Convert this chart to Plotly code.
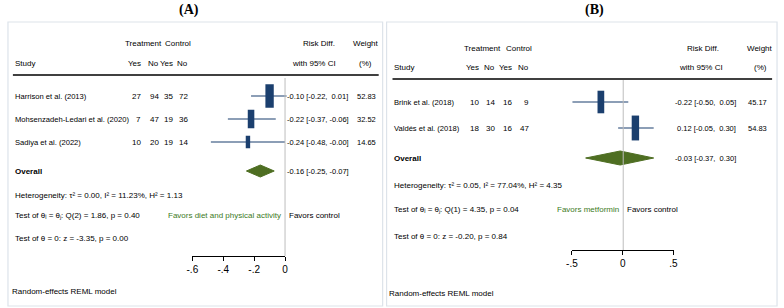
import plotly.graph_objects as go

# ---------------- data ----------------
studies_a = ["Harrison et al. (2013)", "Mohsenzadeh-Ledari et al. (2020)", "Sadiya et al. (2022)"]
treat_yes_a = [27, 7, 10]
treat_no_a = [94, 47, 20]
ctrl_yes_a = [35, 19, 19]
ctrl_no_a = [72, 36, 14]
rd_a = [-0.10, -0.22, -0.24]
lo_a = [-0.22, -0.37, -0.48]
hi_a = [0.01, -0.06, -0.00]
weight_a = [52.83, 32.52, 14.65]
overall_a = [-0.16, -0.25, -0.07]
stats_a = ["Heterogeneity: τ² = 0.00, I² = 11.23%, H² = 1.13",
           "Test of θᵢ = θⱼ: Q(2) = 1.86, p = 0.40",
           "Test of θ = 0: z = -3.35, p = 0.00"]
favors_a = ["Favors diet and physical activity", "Favors control"]
ticks_a = [-0.6, -0.4, -0.2, 0]
ticklabels_a = ["-.6", "-.4", "-.2", "0"]

studies_b = ["Brink et al. (2018)", "Valdés et al. (2018)"]
treat_yes_b = [10, 18]
treat_no_b = [14, 30]
ctrl_yes_b = [16, 16]
ctrl_no_b = [9, 47]
rd_b = [-0.22, 0.12]
lo_b = [-0.50, -0.05]
hi_b = [0.05, 0.30]
weight_b = [45.17, 54.83]
overall_b = [-0.03, -0.37, 0.30]
stats_b = ["Heterogeneity: τ² = 0.05, I² = 77.04%, H² = 4.35",
           "Test of θᵢ = θⱼ: Q(1) = 4.35, p = 0.04",
           "Test of θ = 0: z = -0.20, p = 0.84"]
favors_b = ["Favors metformin", "Favors control"]
ticks_b = [-0.5, 0, 0.5]
ticklabels_b = ["-.5", "0", ".5"]

model_note = "Random-effects REML model"

# ---------------- styling / layout ----------------
W, H = 784, 308
FONT = "Liberation Sans, Arial, sans-serif"
FS = 8
FS_NUM = 7.5
FS_NAME = 7.6
NAVY = "#1b3f6e"
GREEN = "#4e6e22"
GTXT = "#3d7a24"
REFGRAY = "#bdbdbd"
BORDER = "#dde3ea"


def px(x):
    return x / W


def py(y):
    return 1 - y / H


panels = [
    dict(name="A", studies=studies_a, cols=[treat_yes_a, treat_no_a, ctrl_yes_a, ctrl_no_a],
         rd=rd_a, lo=lo_a, hi=hi_a, w=weight_a, ov=overall_a, stats=stats_a, fav=favors_a,
         ticks=ticks_a, tl=ticklabels_a,
         box=(2, 22, 382, 306), title_x=186, left=8, note_x=5,
         hdr1=43, hdr2=63, sep=75, sep_x=(7, 378),
         colx=[138, 156, 170, 186], grp=[(139, "Treatment"), (174, "Control")],
         rd_hdr=317, rd_hdr2=312, w_hdr=365, eff_x=284, w_x=376,
         row0=96, drow=23, ov_px=171, stat_y=[195, 215, 238], fav_y=215,
         zero_px=283, tick_lo_px=189, tick_hi_px=283, axis_y=256, ref_top=78,
         note_y=291, bw=1.15, bh=2.3, dh=6),
    dict(name="B", studies=studies_b, cols=[treat_yes_b, treat_no_b, ctrl_yes_b, ctrl_no_b],
         rd=rd_b, lo=lo_b, hi=hi_b, w=weight_b, ov=overall_b, stats=stats_b, fav=favors_b,
         ticks=ticks_b, tl=ticklabels_b,
         box=(386, 22, 782, 306), title_x=597, left=392, note_x=387,
         hdr1=48, hdr2=68, sep=79, sep_x=(392, 777),
         colx=[481, 497, 514, 531], grp=[(483, "Treatment"), (520, "Control")],
         rd_hdr=707, rd_hdr2=705, w_hdr=765, eff_x=678, w_x=773,
         row0=102, drow=26, ov_px=158, stat_y=[185, 210, 237], fav_y=209,
         zero_px=626, tick_lo_px=574, tick_hi_px=677, axis_y=250, ref_top=80,
         note_y=293, bw=1.0, bh=2.4, dh=7),
]

fig = go.Figure()
annotations = []
shapes = []
layout_axes = {}


def txt(x, y, s, anchor="left", color="black", size=FS, family=FONT, bold=False):
    annotations.append(dict(x=px(x), y=py(y), xref="paper", yref="paper", text=s,
                            showarrow=False, xanchor=anchor, yanchor="middle",
                            borderpad=0,
                            font=dict(family=family, size=size, color=color,
                                      weight="bold" if bold else "normal")))


def nb(s):
    return s.replace(" ", "\u00a0")


def fmt_ci(e, l, h):
    return nb(f"{e:5.2f} [{l:5.2f}, {h:5.2f}]")


for i, p in enumerate(panels):
    xa = "x" if i == 0 else "x2"
    ya = "y" if i == 0 else "y2"
    xt = "x3" if i == 0 else "x4"
    xkey = "xaxis" if i == 0 else "xaxis2"
    ykey = "yaxis" if i == 0 else "yaxis2"
    xtkey = "xaxis3" if i == 0 else "xaxis4"

    x0b, y0b, x1b, y1b = p["box"]
    # calibration of value scale to pixels
    ppu = (p["tick_hi_px"] - p["tick_lo_px"]) / (p["ticks"][-1] - p["ticks"][0])
    rng = [(x0b - p["zero_px"]) / ppu, (x1b - p["zero_px"]) / ppu]
    layout_axes[xkey] = dict(domain=[px(x0b), px(x1b)], range=rng, visible=False,
                             anchor=ya, fixedrange=True)

    def row_of(pix, p=p):
        return (pix - p["row0"]) / p["drow"] + 1
    layout_axes[ykey] = dict(domain=[0, 1], range=[row_of(H), row_of(0)], visible=False,
                             anchor=xa, fixedrange=True)
    layout_axes[xtkey] = dict(domain=[px(p["tick_lo_px"]), px(p["tick_hi_px"])],
                              range=[p["ticks"][0], p["ticks"][-1]], anchor="free",
                              position=py(p["axis_y"]), showline=True, linecolor="black",
                              linewidth=1, ticks="outside", ticklen=4, tickcolor="black",
                              tickvals=p["ticks"], ticktext=p["tl"], showgrid=False,
                              zeroline=False, fixedrange=True,
                              tickfont=dict(family=FONT, size=10, color="black"))

    n = len(p["studies"])
    rows = list(range(1, n + 1))
    ov_row = row_of(p["ov_px"])

    # reference line at 0
    shapes.append(dict(type="line", xref=xa, yref="paper", x0=0, x1=0,
                       y0=py(p["ref_top"]), y1=py(p["axis_y"]),
                       line=dict(color=REFGRAY, width=1)))
    # CIs + boxes
    fig.add_trace(go.Scatter(
        x=p["rd"], y=rows, xaxis=xa, yaxis=ya, mode="markers",
        error_x=dict(type="data", symmetric=False,
                     array=[h - e for h, e in zip(p["hi"], p["rd"])],
                     arrayminus=[e - l for e, l in zip(p["rd"], p["lo"])],
                     color=NAVY, thickness=1.2, width=0),
        marker=dict(symbol="line-ns", color=NAVY, opacity=1,
                    size=[p["bh"] * w ** 0.5 for w in p["w"]],
                    line=dict(color=NAVY, width=[p["bw"] * w ** 0.5 for w in p["w"]])),
        showlegend=False, hoverinfo="skip"))
    # diamond
    est, lo, hi = p["ov"]
    dh = p["dh"] / p["drow"]
    fig.add_trace(go.Scatter(
        x=[lo, est, hi, est, lo], y=[ov_row, ov_row - dh, ov_row, ov_row + dh, ov_row],
        xaxis=xa, yaxis=ya, mode="lines", fill="toself", fillcolor=GREEN,
        line=dict(color=GREEN, width=1), showlegend=False, hoverinfo="skip"))
    # dummy trace for the tick axis
    fig.add_trace(go.Scatter(x=[p["ticks"][0], p["ticks"][-1]], y=[None, None],
                             xaxis=xt, yaxis=ya, mode="markers", showlegend=False,
                             hoverinfo="skip"))

    # panel box and title
    shapes.append(dict(type="rect", xref="paper", yref="paper", x0=px(x0b), x1=px(x1b),
                       y0=py(y1b), y1=py(y0b), line=dict(color=BORDER, width=1.2)))
    txt(p["title_x"], 10, "(" + p["name"] + ")", anchor="center", size=14,
        family="Liberation Serif, Times New Roman, serif", bold=True)

    # headers
    txt(p["left"], p["hdr2"], "Study")
    for gx, g in p["grp"]:
        txt(gx, p["hdr1"], g, anchor="center")
    for cx, lab in zip(p["colx"], ["Yes", "No", "Yes", "No"]):
        txt(cx, p["hdr2"], lab, anchor="right")
    txt(p["rd_hdr"], p["hdr1"], "Risk Diff.", anchor="center")
    txt(p["rd_hdr2"], p["hdr2"], "with 95% CI", anchor="center")
    txt(p["w_hdr"], p["hdr1"], "Weight", anchor="center")
    txt(p["w_hdr"], p["hdr2"], "(%)", anchor="center")
    shapes.append(dict(type="line", xref="paper", yref="paper", x0=px(p["sep_x"][0]),
                       x1=px(p["sep_x"][1]), y0=py(p["sep"]), y1=py(p["sep"]),
                       line=dict(color="black", width=1.3)))

    # study rows
    for k in range(n):
        ypix = p["row0"] + k * p["drow"]
        txt(p["left"], ypix, p["studies"][k], size=FS_NAME)
        for cx, col in zip(p["colx"], p["cols"]):
            txt(cx, ypix, str(col[k]), anchor="right")
        txt(p["eff_x"], ypix, fmt_ci(p["rd"][k], p["lo"][k], p["hi"][k]), size=FS_NUM)
        txt(p["w_x"], ypix, f"{p['w'][k]:.2f}", anchor="right", size=FS_NUM)

    # overall
    txt(p["left"], p["ov_px"], "Overall", bold=True)
    txt(p["eff_x"], p["ov_px"], fmt_ci(est, lo, hi), size=FS_NUM)
    for sy, st in zip(p["stat_y"], p["stats"]):
        txt(p["left"], sy, st)
    txt(p["zero_px"] - 3, p["fav_y"], p["fav"][0], anchor="right", color=GTXT)
    txt(p["zero_px"] + 3, p["fav_y"], p["fav"][1], anchor="left")
    txt(p["note_x"], p["note_y"], model_note)

fig.update_layout(width=W, height=H, margin=dict(l=0, r=0, t=0, b=0),
                  paper_bgcolor="white", plot_bgcolor="rgba(0,0,0,0)",
                  annotations=annotations, shapes=shapes, showlegend=False,
                  **layout_axes)
fig.write_html("out.html", config={"displayModeBar": False, "staticPlot": True},
               post_script="document.body.style.margin='0';")
